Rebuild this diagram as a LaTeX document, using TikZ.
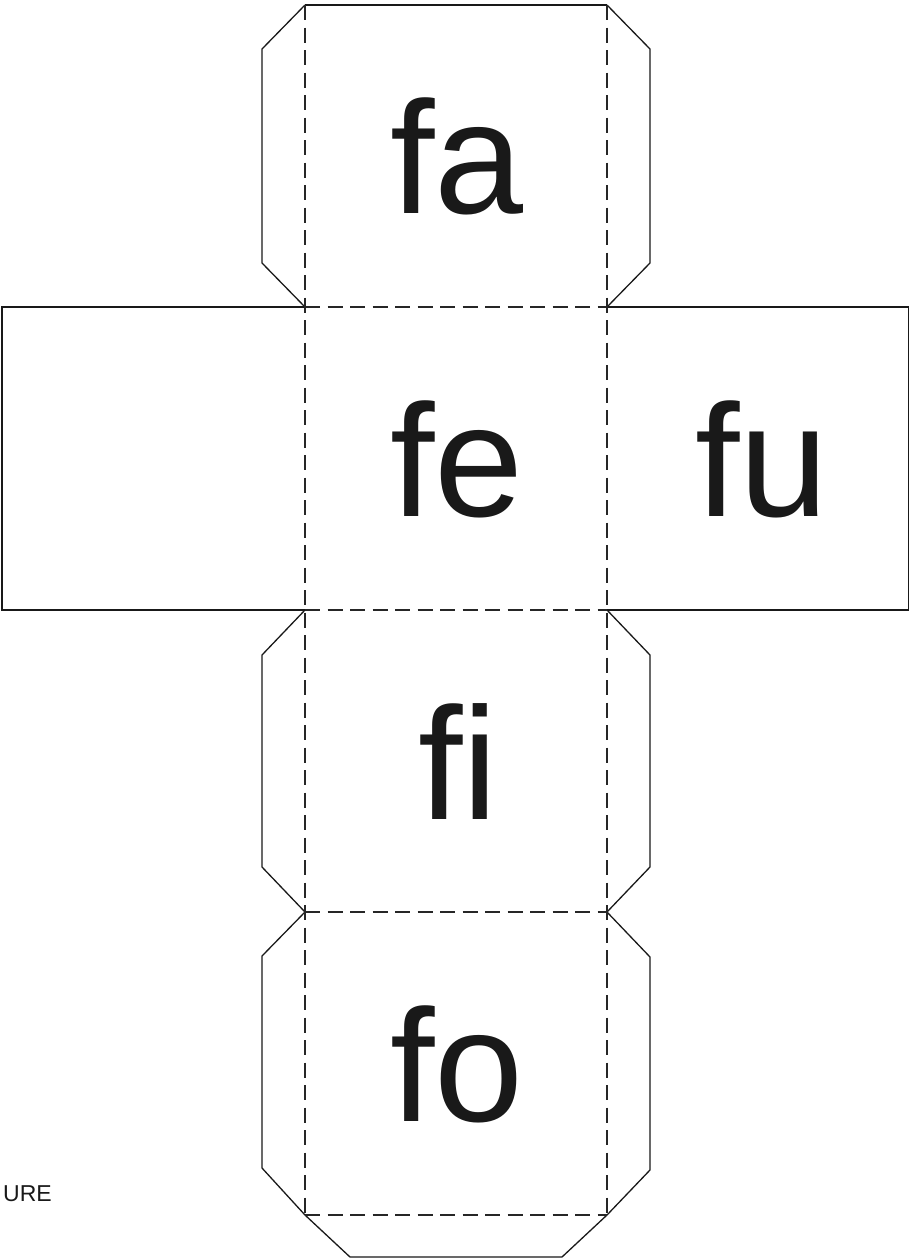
\documentclass[tikz,border=0pt]{standalone}
\usepackage{fontspec}
\setmainfont{Liberation Sans}
\tikzset{
    cutline/.style={draw=black!90, line width=1.3pt, line join=miter},
    foldline/.style={draw=black!85, line width=1.3pt, dash pattern=on 15pt off 7.5pt},
    facelabel/.style={anchor=base, inner sep=0pt, text=black!90, font=\fontsize{160}{160}\selectfont},
    caption/.style={anchor=base east, inner sep=0pt, text=black!90, font=\fontsize{23}{23}\selectfont}
}

\begin{document}
\begin{tikzpicture}[x=1pt, y=-1pt]
    \useasboundingbox (0,0) rectangle (909,1259);
    % corners of the folded squares
    \foreach \rowname/\rowy in {a/5, b/307, c/610, d/912, e/1215}{
        \coordinate (l\rowname) at (305,\rowy);
        \coordinate (r\rowname) at (607,\rowy);
    }
    % outside cut
    \draw[cutline] (la) -- (ra);
    \draw[cutline] (la) -- (262,49) -- (262,263) -- (lb);
    \draw[cutline] (ra) -- (650,49) -- (650,263) -- (rb);
    \draw[cutline] (lb) -- (2,307) -- (2,610) -- (lc);
    \draw[cutline] (rb) -- (909,307) -- (909,610) -- (rc);
    \draw[cutline] (lc) -- (262,655) -- (262,867) -- (ld);
    \draw[cutline] (rc) -- (650,655) -- (650,867) -- (rd);
    \draw[cutline] (ld) -- (262,956) -- (262,1168) -- (le) -- (350,1257)
        -- (562,1257) -- (re) -- (650,1170) -- (650,957) -- (rd);
    % folds
    \draw[foldline] (la) -- (le);
    \draw[foldline] (ra) -- (re);
    \foreach \rowname in {b, c, d, e}{
        \draw[foldline] (l\rowname) -- (r\rowname);
    }
    % faces
    \node[facelabel] (fa) at (457,213) {fa};
    \node[facelabel] (fe) at (457,516) {fe};
    \node[facelabel] (fu) at (762,516) {fu};
    \node[facelabel] (fi) at (458,819) {fi};
    \node[facelabel] (fo) at (457,1121) {fo};
    \node[caption] (ure) at (52,1201) {URE};
\end{tikzpicture}
\end{document}
